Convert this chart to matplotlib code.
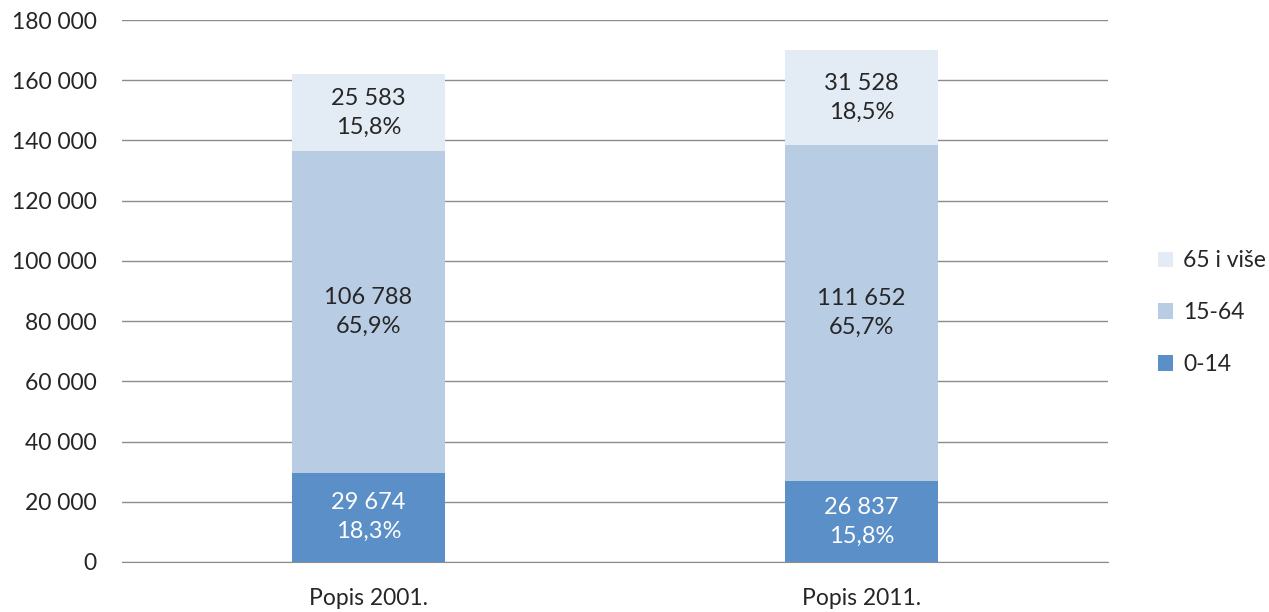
import matplotlib.pyplot as plt

# Data
categories = ['Popis 2001.', 'Popis 2011.']
age_0_14 = [29674, 26837]
age_15_64 = [106788, 111652]
age_65 = [25583, 31528]
pct_0_14 = ['18,3%', '15,8%']
pct_15_64 = ['65,9%', '65,7%']
pct_65 = ['15,8%', '18,5%']
yticks = [0, 20000, 40000, 60000, 80000, 100000, 120000, 140000, 160000, 180000]

plt.rcParams['font.family'] = ['Lato', 'DejaVu Sans']

fig = plt.figure(figsize=(12.69, 6.12), dpi=100)
ax = fig.add_axes([0.0961, 0.0817, 0.777, 0.8856])

x = range(len(categories))
w = 0.312
c_dark, c_mid, c_light = '#5b8fc8', '#b8cce4', '#e3ebf4'
fs = 16.5

ax.bar(x, age_0_14, w, color=c_dark, label='0-14', zorder=3)
bottom2 = age_0_14
ax.bar(x, age_15_64, w, bottom=bottom2, color=c_mid, label='15-64', zorder=3)
bottom3 = [a + b for a, b in zip(age_0_14, age_15_64)]
ax.bar(x, age_65, w, bottom=bottom3, color=c_light, label='65 i više', zorder=3)

def fmt(v):
    return f'{v:,}'.replace(',', ' ')

for i in x:
    ax.text(i, age_0_14[i] / 2, fmt(age_0_14[i]) + '\n' + pct_0_14[i],
            ha='center', va='center', color='white', fontsize=17, zorder=4, linespacing=1.45)
    ax.text(i, bottom2[i] + age_15_64[i] / 2, fmt(age_15_64[i]) + '\n' + pct_15_64[i],
            ha='center', va='center', color='#262626', fontsize=17, zorder=4, linespacing=1.45)
    ax.text(i, bottom3[i] + age_65[i] / 2, fmt(age_65[i]) + '\n' + pct_65[i],
            ha='center', va='center', color='#262626', fontsize=17, zorder=4, linespacing=1.45)

ax.set_xlim(-0.5, 1.5)
ax.set_ylim(0, 180000)
ax.set_xticks(list(x))
ax.set_xticklabels(categories)
ax.set_yticks(yticks)
ax.set_yticklabels([fmt(t) for t in yticks])
ax.tick_params(length=0, labelsize=fs, colors='#262626')
ax.tick_params(axis='y', pad=18)
ax.tick_params(axis='x', pad=19)
ax.grid(axis='y', color='#8c8c8c', linewidth=1, zorder=0)
for s in ['top', 'right', 'left']:
    ax.spines[s].set_visible(False)
ax.spines['bottom'].set_color('#8c8c8c')

handles, labels = ax.get_legend_handles_labels()
ax.legend(handles[::-1], labels[::-1], loc='center left', bbox_to_anchor=(1.03, 0.46),
          frameon=False, fontsize=fs, handlelength=0.65, handleheight=0.65,
          handletextpad=0.45, labelspacing=1.35, labelcolor='#262626')

plt.savefig('out.png', dpi=100)
